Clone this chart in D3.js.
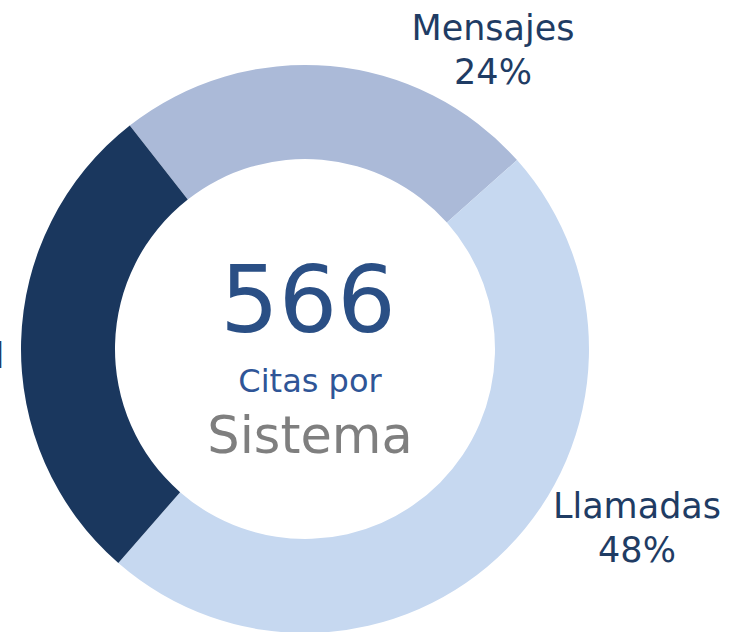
<!DOCTYPE html>
<html><head><meta charset="utf-8">
<script src="https://cdn.jsdelivr.net/npm/d3@7"></script>
<style>html,body{margin:0;padding:0;background:#fff;overflow:hidden}</style>
</head><body>
<svg id="chart" width="732" height="632"></svg>
<script>
const categories = ["Mensajes", "Llamadas", "Presencial"];
const values = [24, 48, 28];
const percentLabels = ["24%", "48%", "28%"];
const colors = ["#abbad8", "#c6d8f0", "#1a375e"];
const totalValue = "566";
const centerLine1 = "Citas por";
const centerLine2 = "Sistema";

const W = 732, H = 632;
const cx = 305, cy = 349, rOuter = 284, rInner = 190;
const startDeg = -38.1;
const labelPos = [ {x: 493, y: 40}, {x: 637, y: 518}, {x: -78, y: 368} ];
const font = "'DejaVu Sans', sans-serif";

const svg = d3.select("#chart");
const g = svg.append("g").attr("transform", `translate(${cx},${cy})`);

const pie = d3.pie().sort(null).value(d => d)
  .startAngle(startDeg * Math.PI / 180)
  .endAngle(startDeg * Math.PI / 180 + 2 * Math.PI);
const arc = d3.arc().innerRadius(rInner).outerRadius(rOuter);

g.selectAll("path").data(pie(values)).join("path")
  .attr("d", arc)
  .attr("fill", (d, i) => colors[i]);

// outer labels
const lab = svg.append("g");
categories.forEach((c, i) => {
  const p = labelPos[i];
  const isLeft = i === 2;
  lab.append("text")
    .attr("x", isLeft ? 4.5 : p.x).attr("y", p.y)
    .attr("text-anchor", isLeft ? "end" : "middle")
    .attr("font-family", font).attr("font-size", 35)
    .attr("fill", "#1f3c64").text(c);
  lab.append("text")
    .attr("x", p.x).attr("y", p.y + 44)
    .attr("text-anchor", "middle")
    .attr("font-family", font).attr("font-size", 35)
    .attr("fill", "#1f3c64").text(percentLabels[i]);
});

// center text
svg.append("text").attr("x", 308).attr("y", 332).attr("text-anchor", "middle")
  .attr("font-family", font).attr("font-size", 92).attr("fill", "#2a4f85").text(totalValue);
svg.append("text").attr("x", 310).attr("y", 392).attr("text-anchor", "middle")
  .attr("font-family", font).attr("font-size", 32).attr("fill", "#2f5597").text(centerLine1);
svg.append("text").attr("x", 310).attr("y", 453).attr("text-anchor", "middle")
  .attr("font-family", font).attr("font-size", 51).attr("fill", "#7f7f7f").text(centerLine2);
</script>
</body></html>
